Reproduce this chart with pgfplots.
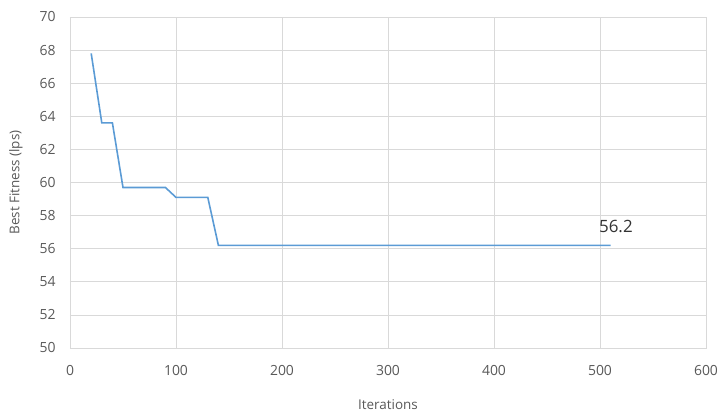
\documentclass[border=0pt]{standalone}
\usepackage{pgfplots}
\pgfplotsset{compat=1.18}
\usepackage{fontspec}
\setmainfont{Open Sans}
\definecolor{gridc}{HTML}{D9D9D9}
\definecolor{txt}{HTML}{595959}
\definecolor{lineb}{HTML}{5B9BD5}
\begin{document}
\begin{tikzpicture}[x=1bp,y=1bp]
\path[use as bounding box] (-70bp,-67bp) rectangle (651bp,348bp);
\begin{axis}[
  at={(0,0)}, anchor=south west,
  scale only axis, width=636bp, height=331bp,
  xmin=0, xmax=600, ymin=50, ymax=70,
  xtick={0,100,...,600}, ytick={50,52,...,70},
  grid=major, major grid style={gridc, line width=0.8bp},
  axis line style={gridc, line width=0.8bp},
  tick style={draw=none},
  /pgf/number format/assume math mode=true,
  tick label style={font=\fontsize{14}{16}\selectfont, text=txt},
  yticklabel style={xshift=-11bp},
  xticklabel style={yshift=-14bp},
  xlabel={Iterations}, ylabel={Best Fitness (lps)},
  label style={font=\fontsize{13.5}{15}\selectfont, text=txt},
  xlabel style={yshift=-17bp},
  ylabel style={yshift=10bp},
  clip=false,
]
\addplot[lineb, line width=1.6bp] coordinates {
(20,67.8) (30,63.6) (40,63.6) (50,59.7) (90,59.7) (100,59.1) (130,59.1) (140,56.2) (510,56.2)
};
\node[anchor=south, font=\fontsize{17}{19}\selectfont, text=black!80, inner sep=2bp] at (axis cs:515,56.85) {56.2};
\end{axis}
\end{tikzpicture}
\end{document}
